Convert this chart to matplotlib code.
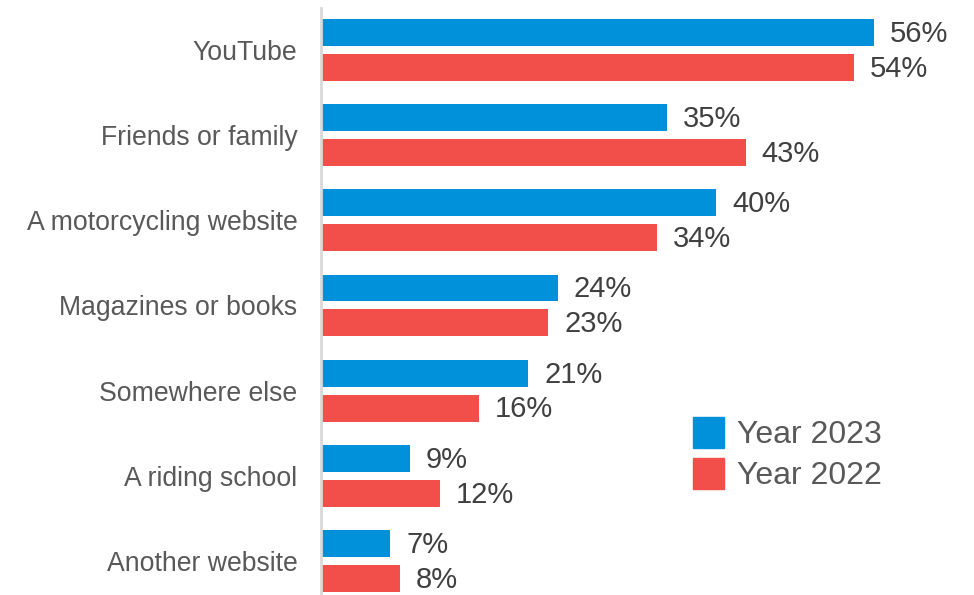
import matplotlib
matplotlib.use("Agg")
import matplotlib.pyplot as plt
from matplotlib.patches import Patch
import numpy as np

plt.rcParams["font.family"] = ["Liberation Sans", "DejaVu Sans"]

categories = ["YouTube", "Friends or family", "A motorcycling website",
              "Magazines or books", "Somewhere else", "A riding school",
              "Another website"]
year_2023 = [56, 35, 40, 24, 21, 9, 7]
year_2022 = [54, 43, 34, 23, 16, 12, 8]

blue = "#0091DA"
red = "#F24F4B"

fig = plt.figure(figsize=(9.74, 5.95), dpi=100)
ax = fig.add_axes([321 / 974, 0, 1 - 321 / 974, 587 / 595])

y = np.arange(len(categories))
off = 0.205
h = 0.317
ax.barh(y - off, year_2023, height=h, color=blue, label="Year 2023")
ax.barh(y + off, year_2022, height=h, color=red, label="Year 2022")

for i in range(len(categories)):
    ax.annotate(f"{year_2023[i]}%", (year_2023[i], y[i] - off), xytext=(11.5, -1),
                textcoords="offset points", va="center", ha="left",
                fontsize=21, color="#404040")
    ax.annotate(f"{year_2022[i]}%", (year_2022[i], y[i] + off), xytext=(11.5, -1),
                textcoords="offset points", va="center", ha="left",
                fontsize=21, color="#404040")

ax.set_xlim(0, (974 - 321) / 9.875)
ax.set_ylim(6.4, -0.493)
ax.set_yticks(y)
ax.set_yticklabels(categories, fontsize=19.2, color="#595959")
ax.tick_params(axis="y", length=0, pad=17)
ax.set_xticks([])
for s in ["top", "right", "bottom"]:
    ax.spines[s].set_visible(False)
ax.spines["left"].set_color("#d9d9d9")
ax.spines["left"].set_linewidth(2)

handles = [Patch(color=blue), Patch(color=red)]
fig.legend(handles, ["Year 2023", "Year 2022"], loc="upper left",
           bbox_to_anchor=(693 / 974, 1 - 417 / 595), frameon=False,
           fontsize=23, handlelength=0.97, handleheight=1.1,
           handletextpad=0.4, labelspacing=0.25, borderpad=0,
           borderaxespad=0, labelcolor="#595959")

fig.savefig("out.png", dpi=100)
